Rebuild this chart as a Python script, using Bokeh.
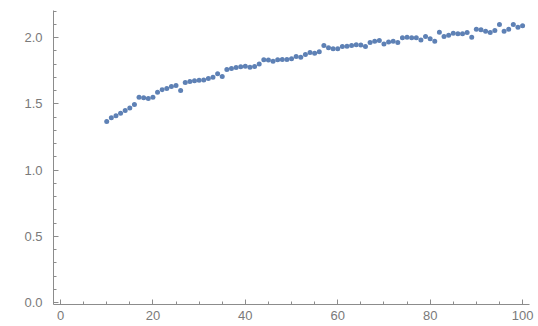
from bokeh.plotting import figure
from bokeh.models import SingleIntervalTicker, Range1d, CustomJSTickFormatter
from bokeh.embed import file_html
from bokeh.resources import INLINE

xs = list(range(10, 101))
ys = [
    1.366, 1.394, 1.409, 1.429, 1.449, 1.469, 1.494, 1.550, 1.545, 1.540,
    1.550, 1.587, 1.605, 1.615, 1.630, 1.638, 1.600, 1.660, 1.668, 1.673,
    1.678, 1.680, 1.690, 1.700, 1.726, 1.706, 1.758, 1.766, 1.774, 1.779,
    1.783, 1.776, 1.781, 1.800, 1.832, 1.830, 1.821, 1.832, 1.834, 1.834,
    1.839, 1.857, 1.851, 1.872, 1.887, 1.882, 1.892, 1.940, 1.922, 1.915,
    1.915, 1.932, 1.934, 1.940, 1.945, 1.943, 1.932, 1.962, 1.972, 1.977,
    1.952, 1.967, 1.972, 1.962, 1.998, 2.003, 1.998, 1.998, 1.982, 2.008,
    1.990, 1.972, 2.040, 2.008, 2.017, 2.032, 2.028, 2.028, 2.038, 2.003,
    2.063, 2.058, 2.048, 2.038, 2.053, 2.098, 2.048, 2.063, 2.098, 2.078,
    2.088,
]

axis_col = "#8c8c8c"
label_col = "#7a7a7a"

p = figure(width=538, height=326, output_backend="svg", toolbar_location=None,
           x_range=Range1d(-1.515, 101.5), y_range=Range1d(-0.015, 2.204),
           min_border_left=53, min_border_right=9, min_border_top=10, min_border_bottom=22)
p.outline_line_color = None
p.xgrid.visible = False
p.ygrid.visible = False
p.background_fill_color = "white"
p.border_fill_color = "white"

p.scatter(xs, ys, size=5, color="#5E81B5", line_color=None)

p.xaxis.ticker = SingleIntervalTicker(interval=20, num_minor_ticks=4)
p.yaxis.ticker = SingleIntervalTicker(interval=0.5, num_minor_ticks=5)
p.yaxis.formatter = CustomJSTickFormatter(code="return tick.toFixed(1);")

for ax in (p.xaxis[0], p.yaxis[0]):
    ax.axis_line_color = axis_col
    ax.axis_line_width = 1
    ax.major_tick_line_color = axis_col
    ax.minor_tick_line_color = axis_col
    ax.major_tick_in = 5
    ax.major_tick_out = 0
    ax.minor_tick_in = 3
    ax.minor_tick_out = 0
    ax.major_label_text_color = label_col
    ax.major_label_text_font = "Liberation Sans"
    ax.major_label_text_font_size = "13px"

p.xaxis.major_label_standoff = 6
p.yaxis.major_label_standoff = 11

open("out.html", "w").write(file_html(p, INLINE))
